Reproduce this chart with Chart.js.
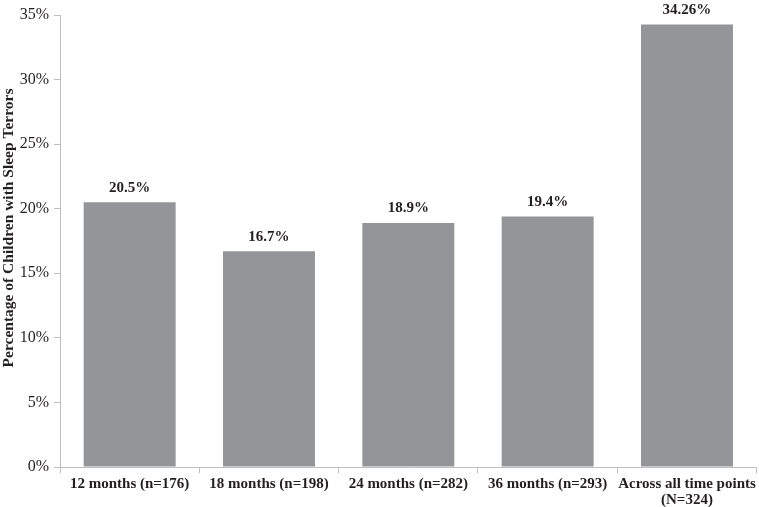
<!DOCTYPE html>
<html>
<head>
<meta charset="utf-8">
<script src="https://cdn.jsdelivr.net/npm/chart.js@4/dist/chart.umd.min.js"></script>
<style>
  html, body { margin: 0; padding: 0; background: #fff; }
  #wrap { width: 759px; height: 507px; }
</style>
</head>
<body>
<div id="wrap"><canvas id="chart" width="759" height="507"></canvas></div>
<script>
const categories = [
  "12 months (n=176)",
  "18 months (n=198)",
  "24 months (n=282)",
  "36 months (n=293)",
  ["Across all time points", "(N=324)"]
]
const percentages = [20.5, 16.7, 18.9, 19.4, 34.26]
const valueLabels = ["20.5%", "16.7%", "18.9%", "19.4%", "34.26%"]
const yTicks = [0, 5, 10, 15, 20, 25, 30, 35]
const yTitle = "Percentage of Children with Sleep Terrors"

const serif = "'Liberation Serif', 'Times New Roman', serif"

// bold value labels above each bar
const barLabels = {
  id: "barLabels",
  afterDatasetsDraw(chart) {
    const ctx = chart.ctx
    const meta = chart.getDatasetMeta(0)
    ctx.save()
    ctx.font = "bold 15px " + serif
    ctx.fillStyle = "#231f20"
    ctx.textAlign = "center"
    ctx.textBaseline = "bottom"
    meta.data.forEach((bar, i) => {
      ctx.fillText(valueLabels[i], bar.x, bar.y - 7)
    })
    ctx.restore()
  }
}

// rotated y title, sits a bit above the middle like the original
const sideTitle = {
  id: "sideTitle",
  afterDraw(chart) {
    const ctx = chart.ctx
    ctx.save()
    ctx.translate(9, 228)
    ctx.rotate(-Math.PI / 2)
    ctx.font = "bold 15.5px " + serif
    ctx.fillStyle = "#231f20"
    ctx.textAlign = "center"
    ctx.textBaseline = "middle"
    ctx.fillText(yTitle, 0, 0)
    ctx.restore()
  }
}

new Chart(document.getElementById("chart").getContext("2d"), {
  type: "bar",
  data: {
    labels: categories,
    datasets: [{
      data: percentages,
      backgroundColor: "#939598",
      categoryPercentage: 1,
      barPercentage: 0.66
    }]
  },
  options: {
    responsive: false,
    animation: false,
    layout: { padding: { top: 15, right: 2, left: 0, bottom: 0 } },
    plugins: {
      legend: { display: false },
      tooltip: { enabled: false }
    },
    scales: {
      x: {
        grid: { display: true, drawOnChartArea: false, tickLength: 6, color: "#bfbfbf", offset: true },
        border: { color: "#bfbfbf" },
        ticks: {
          font: { family: serif, size: 15, weight: "bold", lineHeight: 1.05 },
          color: "#231f20",
          maxRotation: 0,
          autoSkip: false,
          padding: 3
        },
        afterFit(scale) { scale.height = 40 }
      },
      y: {
        min: 0,
        max: 35,
        afterBuildTicks(scale) { scale.ticks = yTicks.map(v => ({ value: v })) },
        grid: { display: true, drawOnChartArea: false, tickLength: 6, color: "#bfbfbf" },
        border: { color: "#bfbfbf" },
        ticks: {
          font: { family: serif, size: 16 },
          color: "#231f20",
          padding: 5,
          callback: v => v + "%"
        },
        afterFit(scale) { scale.width = 60 }
      }
    }
  },
  plugins: [barLabels, sideTitle]
})
</script>
</body>
</html>
